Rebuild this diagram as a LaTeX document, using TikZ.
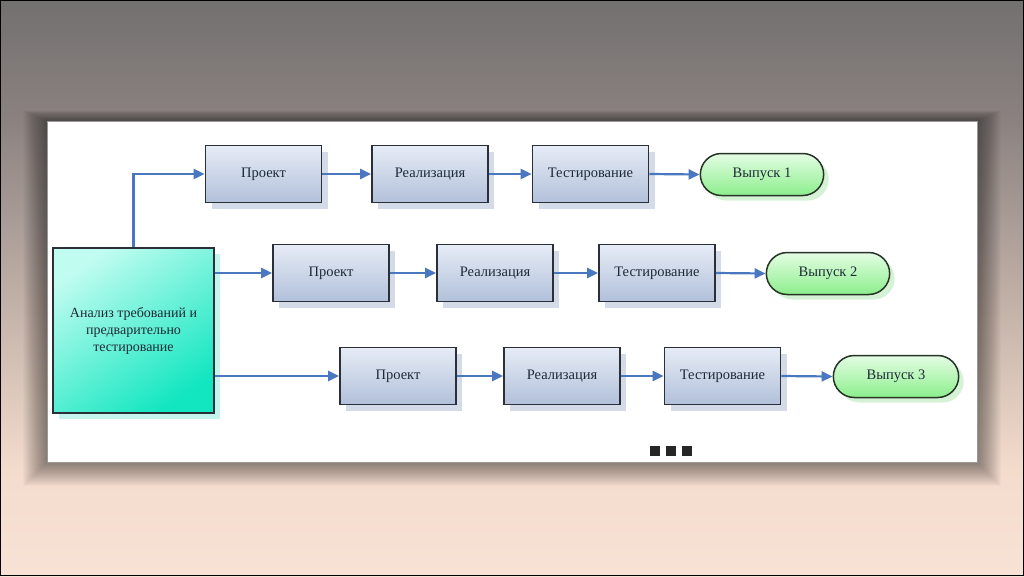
\documentclass[tikz,border=0pt]{standalone}
\usepackage{fontspec}
\setmainfont{Liberation Serif}
\usetikzlibrary{arrows.meta,shapes.misc,shadows}
\definecolor{bgA}{HTML}{737070}
\definecolor{bgB}{HTML}{8B8280}
\definecolor{bgC}{HTML}{F4DCCD}
\definecolor{bgD}{HTML}{F7E2D5}
\definecolor{boxtop}{HTML}{E6ECF6}
\definecolor{boxbot}{HTML}{B2C0DA}
\definecolor{boxline}{HTML}{2B3038}
\definecolor{boxshad}{HTML}{D3DAE8}
\definecolor{pilltop}{HTML}{E4FDE4}
\definecolor{pillbot}{HTML}{8CEE8C}
\definecolor{pillline}{HTML}{263326}
\definecolor{pillshad}{HTML}{D6F2D6}
\definecolor{tealtop}{HTML}{C0FCF0}
\definecolor{tealbot}{HTML}{12E6C0}
\definecolor{tealshad}{HTML}{C4F5EC}
\definecolor{arrcol}{HTML}{4A78C0}
\definecolor{txtcol}{HTML}{1E2A36}
\tikzset{
  proc/.style={rectangle, draw=boxline, line width=1.7pt, minimum width=116, minimum height=57,
    top color=boxtop, bottom color=boxbot, text=txtcol,
    drop shadow={shadow xshift=6pt, shadow yshift=-6pt, fill=boxshad, opacity=1},
    font=\fontsize{14.5}{17}\selectfont},
  pill/.style={rounded rectangle, draw=pillline, line width=1.5pt, minimum width=130, minimum height=42,
    top color=pilltop, bottom color=pillbot, text=txtcol,
    drop shadow={shadow xshift=5pt, shadow yshift=-5pt, fill=pillshad, opacity=1},
    font=\fontsize{14.5}{17}\selectfont},
  anal/.style={rectangle, draw=boxline, line width=1.7pt, minimum width=161, minimum height=165,
    top color=tealtop, bottom color=tealbot, shading angle=35, text=txtcol, align=center,
    drop shadow={shadow xshift=6pt, shadow yshift=-6pt, fill=tealshad, opacity=1},
    font=\fontsize{14}{17}\selectfont},
  arr/.style={draw=arrcol, line width=2.2pt, -{Triangle[length=11pt,width=10pt]}, arrcol},
}
\begin{document}
\begin{tikzpicture}[x=1pt,y=-1pt]
\useasboundingbox (0,0) rectangle (1024,576);
% background
\shade[top color=bgA, bottom color=bgB] (0,0) rectangle (1024,121);
\shade[top color=bgB, bottom color=bgC] (0,120) rectangle (1024,471);
\shade[top color=bgC, bottom color=bgD] (0,470) rectangle (1024,576);
% panel shadow
\foreach \d in {24,23,...,1}{
  \fill[black, opacity=0.02] (47-\d,121-0.45*\d) rectangle (977+\d,462+\d);
}
% panel
\draw[fill=white, draw=black!40, line width=0.8pt] (47,121) rectangle (977,462);
% nodes
\node[anal] (L) at (133.5,330.5) {Анализ требований и\\предварительно\\тестирование};

\node[proc] (p1) at (263.5,174) {Проект};
\node[proc] (r1) at (430,174) {Реализация};
\node[proc] (t1) at (590.5,174) {Тестирование};
\node[pill] (v1) at (762,174.5) {Выпуск 1};

\node[proc] (p2) at (331,273) {Проект};
\node[proc] (r2) at (495,273) {Реализация};
\node[proc] (t2) at (657,273) {Тестирование};
\node[pill] (v2) at (828,273.5) {Выпуск 2};

\node[proc] (p3) at (398,376) {Проект};
\node[proc] (r3) at (562,376) {Реализация};
\node[proc] (t3) at (722.5,376) {Тестирование};
\node[pill, minimum width=132] (v3) at (896,376.5) {Выпуск 3};

% connectors
\draw[arr] (L.north) |- (p1.west);
\draw[arr] (L.east |- p2.west) -- (p2.west);
\draw[arr] (L.east |- p3.west) -- (p3.west);
\foreach \a/\b in {p1/r1,r1/t1,t1/v1,p2/r2,r2/t2,t2/v2,p3/r3,r3/t3,t3/v3}{
  \draw[arr] (\a.east) -- (\b.west);
}
% ellipsis
\foreach \x in {650,666,682}{
  \fill[black!85] (\x,446) rectangle (\x+10,456);
}
% outer frame
\draw[black, line width=1pt] (0.5,0.5) rectangle (1023.5,575.5);
\end{tikzpicture}
\end{document}
